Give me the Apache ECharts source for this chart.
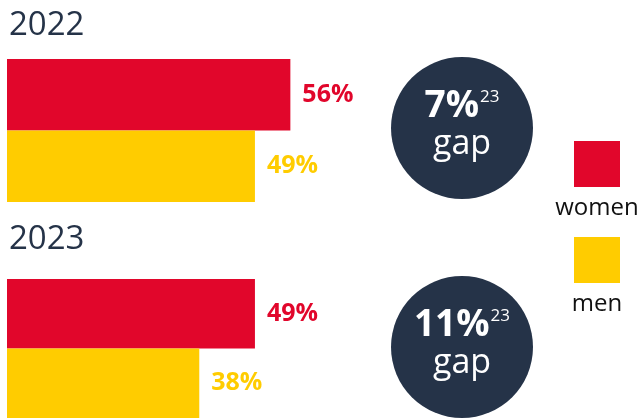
<!DOCTYPE html>
<html>
<head>
<meta charset="utf-8">
<script src="https://cdn.jsdelivr.net/npm/echarts@6/dist/echarts.min.js"></script>
<style>
  html, body { margin: 0; padding: 0; background: #fff; }
  #chart { width: 641px; height: 418px; }
</style>
</head>
<body>
<div id="chart"></div>
<script>
// --- data ---------------------------------------------------------------
var years = ['2022', '2023'];
var groups = ['women', 'men'];
var women = [56, 49];
var men = [49, 38];
var gaps = [7, 11];
var footnote = '23';

var RED = '#e1062b';
var YELLOW = '#ffcc00';
var NAVY = '#253348';
var FONT = 'Open Sans';

var chart = echarts.init(document.getElementById('chart'));

// one grid per year
var gridPos = [
    { left: 7, top: 59, width: 506, height: 143 },
    { left: 7, top: 279, width: 506, height: 144 }
];

var grids = [], xAxes = [], yAxes = [], series = [];
years.forEach(function (yr, i) {
    grids.push(gridPos[i]);
    xAxes.push({ type: 'value', gridIndex: i, min: 0, max: 100, show: false });
    yAxes.push({ type: 'category', gridIndex: i, data: groups, inverse: true, show: false });
    series.push({
        type: 'bar',
        xAxisIndex: i,
        yAxisIndex: i,
        barCategoryGap: 0,
        silent: true,
        data: [
            { value: women[i], itemStyle: { color: RED }, label: { color: RED } },
            { value: men[i], itemStyle: { color: YELLOW }, label: { color: YELLOW } }
        ],
        label: {
            show: true,
            position: 'right',
            distance: 12,
            formatter: '{c}%',
            fontFamily: FONT,
            fontWeight: 'bold',
            fontSize: 25
        }
    });
});

// titles, gap bubbles, legend
var graphics = [];
var yearY = [26, 240];
var bubbleY = [128, 347];
years.forEach(function (yr, i) {
    graphics.push({
        type: 'text', x: 9, y: yearY[i],
        style: { text: yr, fill: NAVY, font: '33px "' + FONT + '"', verticalAlign: 'middle' }
    });
    graphics.push({
        type: 'circle', shape: { cx: 462, cy: bubbleY[i], r: 71 },
        style: { fill: NAVY }
    });
    graphics.push({
        type: 'text', x: 462, y: bubbleY[i] - 3,
        style: {
            text: '{b|' + gaps[i] + '%}{s|' + footnote + '}\n{g|gap}',
            align: 'center',
            verticalAlign: 'middle',
            rich: {
                b: { fill: '#fff', fontFamily: FONT, fontWeight: 'bold', fontSize: 37, lineHeight: 38 },
                s: { fill: '#fff', fontFamily: FONT, fontSize: 17, lineHeight: 38, verticalAlign: 'top', padding: [2, 0, 0, 1] },
                g: { fill: '#fff', fontFamily: FONT, fontSize: 34, lineHeight: 38 }
            }
        }
    });
});

var legendColors = [RED, YELLOW];
var legendTop = [141, 237];
groups.forEach(function (g, i) {
    graphics.push({
        type: 'rect', shape: { x: 574, y: legendTop[i], width: 46, height: 46 },
        style: { fill: legendColors[i] }
    });
    graphics.push({
        type: 'text', x: 597, y: legendTop[i] + 67,
        style: { text: g, fill: '#111', font: '24px "' + FONT + '"', align: 'center', verticalAlign: 'middle' }
    });
});

chart.setOption({
    animation: false,
    grid: grids,
    xAxis: xAxes,
    yAxis: yAxes,
    series: series,
    graphic: graphics
});
</script>
</body>
</html>
